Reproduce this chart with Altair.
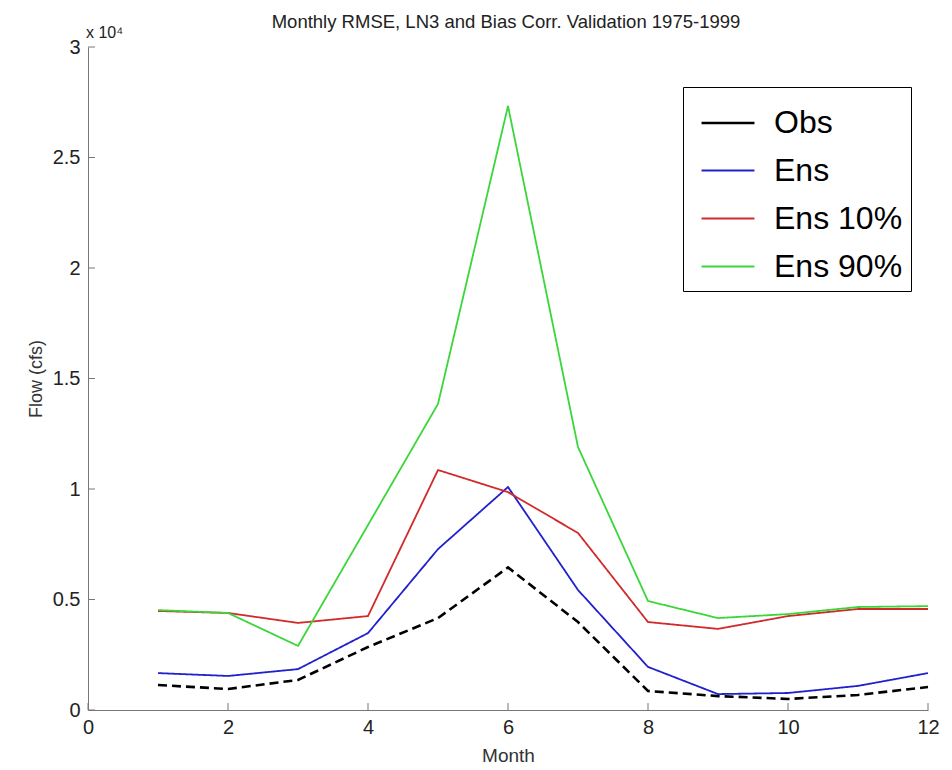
import altair as alt
import pandas as pd

months = list(range(1, 13))
obs = [1130, 950, 1360, 2850, 4160, 6450, 3980, 860, 630, 500, 680, 1040]
ens = [1670, 1540, 1850, 3480, 7280, 10090, 5430, 1950, 720, 770, 1090, 1670]
ens10 = [4480, 4390, 3940, 4250, 10860, 9860, 8010, 3980, 3670, 4250, 4570, 4570]
ens90 = [4520, 4390, 2900, 8370, 13850, 27330, 11900, 4930, 4160, 4340, 4660, 4700]

series_names = ["Obs", "Ens", "Ens 10%", "Ens 90%"]
series_values = [obs, ens, ens10, ens90]
series_colors = ["#000000", "#2020cc", "#d02a2a", "#3ad63a"]
series_widths = [2.6, 1.8, 1.8, 1.8]
dash_groups = ["dashed", "solid", "solid", "solid"]

x_ticks = [0, 2, 4, 6, 8, 10, 12]
y_ticks = [0, 5000, 10000, 15000, 20000, 25000, 30000]
title_text = "Monthly RMSE, LN3 and Bias Corr. Validation 1975-1999"
exp_text = "x 10\u2074"

FONT = '"Liberation Sans Narrow", "Liberation Sans", sans-serif'

rows = []
for name, vals, dg in zip(series_names, series_values, dash_groups):
    for m, v in zip(months, vals):
        rows.append({"month": m, "flow": v, "series": name, "dash": dg})
df = pd.DataFrame(rows)

xs = alt.Scale(domain=[0, 12], nice=False)
ys = alt.Scale(domain=[0, 30000], nice=False)

legend_opts = dict(title=None, orient="none", legendX=595, legendY=40,
                   symbolType="stroke", symbolSize=2800, symbolOffset=9,
                   labelFontSize=32, labelFont=FONT, labelColor="#000000",
                   rowPadding=4, padding=8, labelOffset=18,
                   strokeColor="#000000", fillColor="#ffffff")

lines = alt.Chart(df).mark_line().encode(
    x=alt.X("month:Q", scale=xs,
            axis=alt.Axis(values=x_ticks, format="d", ticks=False, grid=False, title="Month",
                          labelFontSize=20, titleFontSize=19, labelPadding=7,
                          titlePadding=9, labelFlush=False,
                          domainColor="#777777", labelColor="#222222",
                          titleColor="#333333", titleFontWeight="normal")),
    y=alt.Y("flow:Q", scale=ys,
            axis=alt.Axis(values=y_ticks, ticks=False, grid=False, title="Flow (cfs)",
                          labelExpr="datum.value / 10000", labelFontSize=20,
                          titleFontSize=18, labelPadding=8, titlePadding=7,
                          labelFlush=False,
                          domainColor="#777777", labelColor="#222222",
                          titleColor="#333333", titleFontWeight="normal")),
    color=alt.Color("series:N",
                    scale=alt.Scale(domain=series_names, range=series_colors),
                    legend=alt.Legend(**legend_opts)),
    strokeWidth=alt.StrokeWidth("series:N",
                                scale=alt.Scale(type="ordinal", domain=series_names,
                                                range=series_widths),
                                legend=alt.Legend(**legend_opts)),
    strokeDash=alt.StrokeDash("dash:N",
                              scale=alt.Scale(domain=["dashed", "solid"],
                                              range=[[9, 5], [1, 0]]),
                              legend=None),
    detail="series:N",
)

ytick_df = pd.DataFrame({"v": y_ticks})
xtick_df = pd.DataFrame({"m": x_ticks})

yticks = alt.Chart(ytick_df).mark_rule(color="#777777", strokeWidth=1).encode(
    y=alt.Y("v:Q", scale=ys), x=alt.value(0), x2=alt.value(7)
)
xticks = alt.Chart(xtick_df).mark_rule(color="#777777", strokeWidth=1).encode(
    x=alt.X("m:Q", scale=xs), y=alt.value(663), y2=alt.value(656)
)

exp_label = alt.Chart(pd.DataFrame({"t": [exp_text]})).mark_text(
    align="left", baseline="bottom", fontSize=16, font=FONT, color="#222222"
).encode(text="t:N", x=alt.value(-2), y=alt.value(-6))

title_label = alt.Chart(pd.DataFrame({"t": [title_text]})).mark_text(
    align="center", baseline="middle", fontSize=18.5, font=FONT, color="#222222"
).encode(text="t:N", x=alt.value(418), y=alt.value(-25))

chart = alt.layer(lines, yticks, xticks, exp_label, title_label).properties(
    width=840, height=663,
    autosize=alt.AutoSizeParams(type="none"),
    padding={"left": 80, "top": 39, "right": 16, "bottom": 58},
).configure_view(stroke=None).configure_axis(
    labelFont=FONT, titleFont=FONT
)

chart.save("out.html", embed_options={"renderer": "svg", "actions": False})
